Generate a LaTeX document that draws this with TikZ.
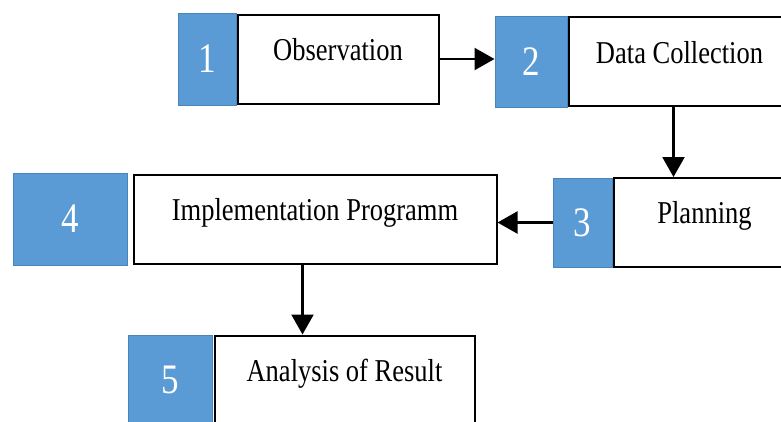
\documentclass[tikz,border=0pt]{standalone}
\usepackage{fontspec}
\setmainfont{Liberation Serif}
\usetikzlibrary{positioning,arrows.meta,calc}
\definecolor{stepblue}{HTML}{5B9BD5}
\definecolor{stepedge}{HTML}{4A84BC}
\newcommand{\tallfont}[1]{\scalebox{1}[1.2]{#1}}

\tikzset{
  numbox/.style={draw=stepedge,fill=stepblue,line width=1pt,text=white,inner sep=0pt,
    font=\fontsize{35}{40}\selectfont},
  stepbox/.style={draw,fill=white,line width=2pt,inner sep=0pt,text height=46pt,text depth=43pt,
    font=\fontsize{26.5}{30}\selectfont},
  flow/.style={line width=2.2pt,-{Triangle[length=20pt,width=22pt]}}
}

\begin{document}
\begin{tikzpicture}[x=1pt,y=-1pt]
\useasboundingbox (0,0) rectangle (781,421);
\clip (0,0) rectangle (781,421);

% steps
\node[numbox,minimum width=58pt,minimum height=92pt] (n1) at (207,59) {\tallfont{1}};
\node[stepbox,minimum width=201pt,right=0pt of n1] (s1) {\tallfont{Observation}};

\node[numbox,minimum width=72pt,minimum height=91pt] (n2) at (531,61.5) {\tallfont{2}};
\node[stepbox,minimum width=222pt,right=0pt of n2] (s2) {\tallfont{Data Collection}};

\node[numbox,minimum width=59pt,minimum height=89pt] (n3) at (582.5,222.5) {\tallfont{3}};
\node[stepbox,minimum width=182pt,text height=45pt,text depth=44pt,right=0pt of n3] (s3) {\tallfont{Planning}};

\node[numbox,minimum width=114pt,minimum height=92pt] (n4) at (70,219) {\tallfont{4}};
\node[stepbox,minimum width=363pt,right=5pt of n4] (s4) {\tallfont{Implementation Programm}};

\node[numbox,minimum width=84pt,minimum height=90pt] (n5) at (170,380) {\tallfont{5}};
\node[stepbox,minimum width=260pt,right=1pt of n5] (s5) {\tallfont{Analysis of Result}};

% arrows
\coordinate (t3) at ($(s3.north west)+(61,0)$);
\coordinate (t5) at ($(s5.north west)+(89,0)$);
\draw[flow] (s1.east) -- (s1.east -| n2.west);
\draw[flow] (s2.south -| t3) -- (t3);
\draw[flow] (n3.west) -- (n3.west -| s4.east);
\draw[flow] (s4.south -| t5) -- (t5);

\end{tikzpicture}
\end{document}
